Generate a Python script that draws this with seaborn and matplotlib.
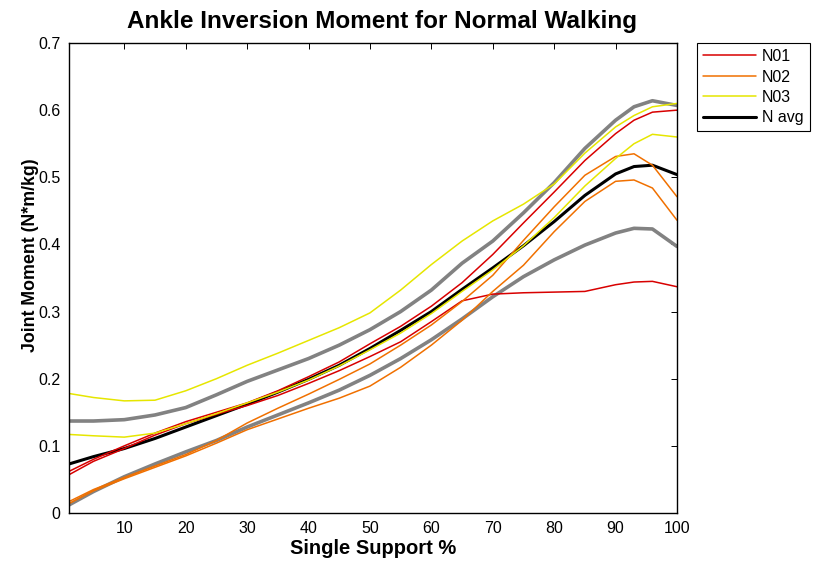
# =========================================================
# ANKLE INVERSION MOMENT - NORMAL WALKING
# =========================================================

import numpy as np
import pandas as pd
import matplotlib
matplotlib.use("Agg")
import matplotlib.pyplot as plt
import seaborn as sns

# =========================
# DATA
# =========================

pct = [1, 5, 10, 15, 20, 25, 30, 35, 40, 45, 50, 55, 60, 65, 70, 75, 80, 85, 90, 93, 96, 100]

n01_a = [0.062, 0.080, 0.100, 0.119, 0.136, 0.150, 0.164, 0.182, 0.203, 0.225, 0.252,
         0.278, 0.308, 0.343, 0.385, 0.432, 0.478, 0.525, 0.565, 0.585, 0.597, 0.600]
n01_b = [0.057, 0.077, 0.096, 0.116, 0.133, 0.147, 0.160, 0.175, 0.193, 0.212, 0.233,
         0.255, 0.285, 0.316, 0.326, 0.328, 0.329, 0.330, 0.340, 0.344, 0.345, 0.337]

n02_a = [0.017, 0.035, 0.053, 0.070, 0.087, 0.108, 0.134, 0.156, 0.177, 0.199, 0.222,
         0.250, 0.280, 0.315, 0.354, 0.406, 0.456, 0.503, 0.531, 0.535, 0.518, 0.471]
n02_b = [0.014, 0.033, 0.051, 0.068, 0.085, 0.104, 0.124, 0.140, 0.156, 0.171, 0.189,
         0.217, 0.250, 0.287, 0.330, 0.369, 0.419, 0.464, 0.494, 0.496, 0.484, 0.436]

n03_a = [0.178, 0.172, 0.167, 0.168, 0.182, 0.200, 0.220, 0.238, 0.257, 0.276, 0.298,
         0.332, 0.370, 0.405, 0.435, 0.460, 0.490, 0.536, 0.575, 0.592, 0.605, 0.610]
n03_b = [0.117, 0.115, 0.113, 0.119, 0.133, 0.148, 0.164, 0.180, 0.198, 0.219, 0.243,
         0.268, 0.297, 0.330, 0.362, 0.398, 0.440, 0.487, 0.528, 0.550, 0.564, 0.560]

n_avg = [0.073, 0.084, 0.096, 0.111, 0.128, 0.145, 0.162, 0.180, 0.199, 0.220, 0.245,
         0.272, 0.300, 0.333, 0.365, 0.398, 0.434, 0.473, 0.505, 0.516, 0.518, 0.504]

sd_upper = [0.137, 0.137, 0.139, 0.146, 0.157, 0.176, 0.196, 0.213, 0.230, 0.250, 0.273,
            0.300, 0.332, 0.372, 0.405, 0.447, 0.492, 0.543, 0.585, 0.605, 0.614, 0.607]
sd_lower = [0.012, 0.032, 0.054, 0.073, 0.091, 0.108, 0.128, 0.146, 0.164, 0.183, 0.205,
            0.230, 0.258, 0.289, 0.322, 0.352, 0.377, 0.399, 0.417, 0.424, 0.423, 0.397]

subjects = ["N01", "N02", "N03"]
xticks = [10, 20, 30, 40, 50, 60, 70, 80, 90, 100]
yticks = [0, 0.1, 0.2, 0.3, 0.4, 0.5, 0.6, 0.7]

# =========================
# STYLE
# =========================

sns.set_style("white")
plt.rcParams["font.family"] = ["Liberation Sans", "DejaVu Sans"]
plt.rcParams["text.color"] = "black"
plt.rcParams["axes.labelcolor"] = "black"

colors = {"N01": "#d80000", "N02": "#f07000", "N03": "#e6e600"}

fig = plt.figure(figsize=(8.17, 5.62), dpi=100)
ax = fig.add_axes([69 / 817, 1 - 513 / 562, 608 / 817, 470 / 562])

# =========================
# PLOT
# =========================

# mean +/- sd (gray)
for band in [sd_upper, sd_lower]:
    sns.lineplot(x=pct, y=band, ax=ax, color="#828282", linewidth=2.6,
                 estimator=None, sort=False, legend=False)

# subject average
sns.lineplot(x=pct, y=n_avg, ax=ax, color="black", linewidth=2.2,
             estimator=None, sort=False, legend=False)

# individual trials
trials = {"N01": [n01_a, n01_b], "N02": [n02_a, n02_b], "N03": [n03_a, n03_b]}
for subj in subjects:
    for trial in trials[subj]:
        sns.lineplot(x=pct, y=trial, ax=ax, color=colors[subj], linewidth=1.1,
                     estimator=None, sort=False, legend=False)

# =========================
# AXES
# =========================

ax.set_xlim(1, 100)
ax.set_ylim(0, 0.7)
ax.set_xticks(xticks)
ax.set_yticks(yticks)
ax.set_yticklabels([f"{v:g}" for v in yticks])
ax.tick_params(direction="in", length=4, width=0.7, labelsize=11.5,
               top=True, right=True, colors="black", pad=6)
for spine in ax.spines.values():
    spine.set_color("black")
    spine.set_linewidth(1.0)

ax.set_title("Ankle Inversion Moment for Normal Walking", color="black",
             fontsize=17.5, fontweight="bold", pad=11, x=0.515)
ax.set_xlabel("Single Support %", fontsize=14.5, fontweight="bold", labelpad=2)
ax.set_ylabel("Joint Moment (N*m/kg)", fontsize=12.8, fontweight="bold")
ax.yaxis.set_label_coords(-0.049, 0.549)

# legend
handles = [plt.Line2D([], [], color=colors[s], linewidth=1.1) for s in subjects]
handles.append(plt.Line2D([], [], color="black", linewidth=2.2))
leg = ax.legend(handles, subjects + ["N avg"], loc="upper left",
                bbox_to_anchor=(697 / 817, 1 - 43 / 562), bbox_transform=fig.transFigure,
                fontsize=11.5, frameon=True, fancybox=False, framealpha=1,
                edgecolor="black", handlelength=3.3, handletextpad=0.4,
                labelspacing=0.34, borderpad=0.38, borderaxespad=0)
leg.get_frame().set_linewidth(0.8)

fig.savefig("out.png", dpi=100)
